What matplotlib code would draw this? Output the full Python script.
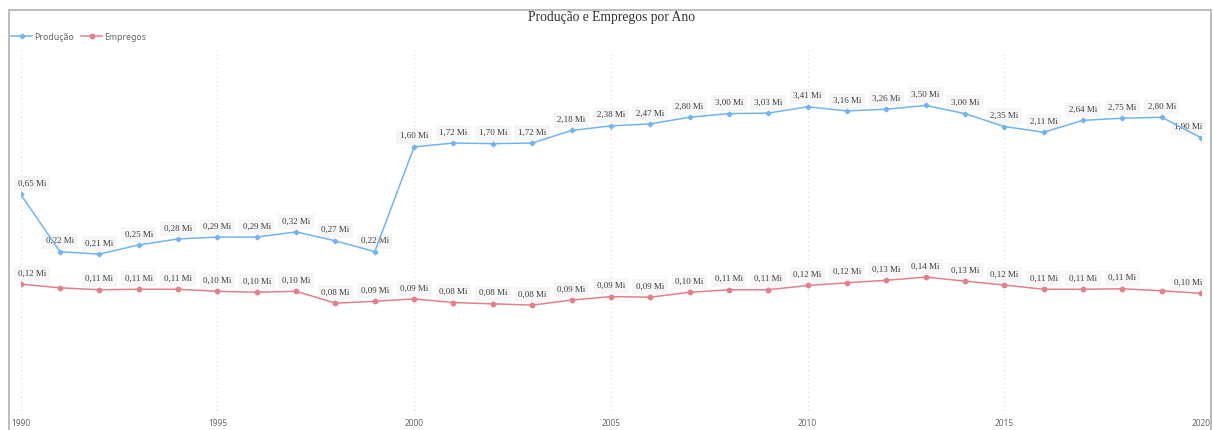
import matplotlib
matplotlib.use('Agg')
import matplotlib.pyplot as plt
import numpy as np

# data (millions)
anos = list(range(1990, 2021))
producao = [0.65, 0.22, 0.21, 0.25, 0.28, 0.29, 0.29, 0.32, 0.27, 0.22,
            1.60, 1.72, 1.70, 1.72, 2.18, 2.38, 2.47, 2.80, 3.00, 3.03,
            3.41, 3.16, 3.26, 3.50, 3.00, 2.35, 2.11, 2.64, 2.75, 2.80,
            1.90]
empregos = [0.119, 0.111, 0.107, 0.108, 0.108, 0.104, 0.102, 0.104, 0.083, 0.086,
            0.090, 0.084, 0.082, 0.080, 0.088, 0.094, 0.093, 0.102, 0.107, 0.107,
            0.116, 0.122, 0.128, 0.136, 0.126, 0.117, 0.108, 0.108, 0.109, 0.105,
            0.100]
# labels hidden in the original (overlap)
sem_rotulo_emp = [1991, 2019]

cor_prod = '#72b4f2'
cor_emp = '#e3808a'

W, H = 1213, 430
fig = plt.figure(figsize=(W / 100, H / 100), dpi=100)
ax = fig.add_axes([20.7 / W, 15 / H, (1201 - 20.7) / W, 365 / H])

ax.plot(anos, producao, color=cor_prod, lw=1.1, marker='D', ms=2.4, label='Produção', zorder=4)
ax.plot(anos, empregos, color=cor_emp, lw=1.1, marker='o', ms=3.2, label='Empregos', zorder=4)

ax.set_yscale('log')
ax.set_ylim(0.01, 10)
ax.set_xlim(1990, 2020)


def fmt(v):
    return f'{v:.2f}'.replace('.', ',') + ' Mi'


def rotulos(valores, pular=()):
    for i, (a, v) in enumerate(zip(anos, valores)):
        if a in pular:
            continue
        ha, dx = 'center', 0
        if i == 0:
            ha, dx = 'left', -2
        elif i == len(anos) - 1:
            ha, dx = 'right', 1
        ax.annotate(fmt(v), (a, v), xytext=(dx, 7.6), textcoords='offset points',
                    ha=ha, va='center', fontsize=6.5, family='Liberation Serif',
                    color='#404040', zorder=3,
                    bbox=dict(boxstyle='square,pad=0.4', fc='#f6f6f6', ec='none'))


rotulos(producao)
rotulos(empregos, sem_rotulo_emp)

ax.set_xticks(range(1990, 2021, 5))
ax.tick_params(axis='x', length=0, pad=3, labelsize=6, labelcolor='#666666')
for t in ax.get_xticklabels():
    t.set_family('Noto Sans')
ax.grid(axis='x', color='#d8d8d8', ls=(0, (1, 3)), lw=0.8)
ax.set_yticks([])
ax.yaxis.set_minor_locator(matplotlib.ticker.NullLocator())
for s in ax.spines.values():
    s.set_visible(False)

fig.text(611 / W, 1 - 17 / H, 'Produção e Empregos por Ano', ha='center', va='center',
         fontsize=9.8, family='Liberation Serif', color='#333333')

leg = fig.legend(loc='center left', bbox_to_anchor=(11 / W, 1 - 37 / H), ncol=2, frameon=False,
                 handlelength=2.4, handletextpad=0.2, columnspacing=0.9,
                 borderaxespad=0, borderpad=0, prop={'family': 'Noto Sans', 'size': 6.3})
for t in leg.get_texts():
    t.set_color('#666666')

# outer frame
fig.add_artist(plt.Rectangle((8.5 / W, -0.01), (1210.5 - 8.5) / W, (1 - 9.5 / H) + 0.01,
                             transform=fig.transFigure, fill=False, ec='#b0b0b0', lw=1.2))

fig.savefig('out.png', dpi=100)
